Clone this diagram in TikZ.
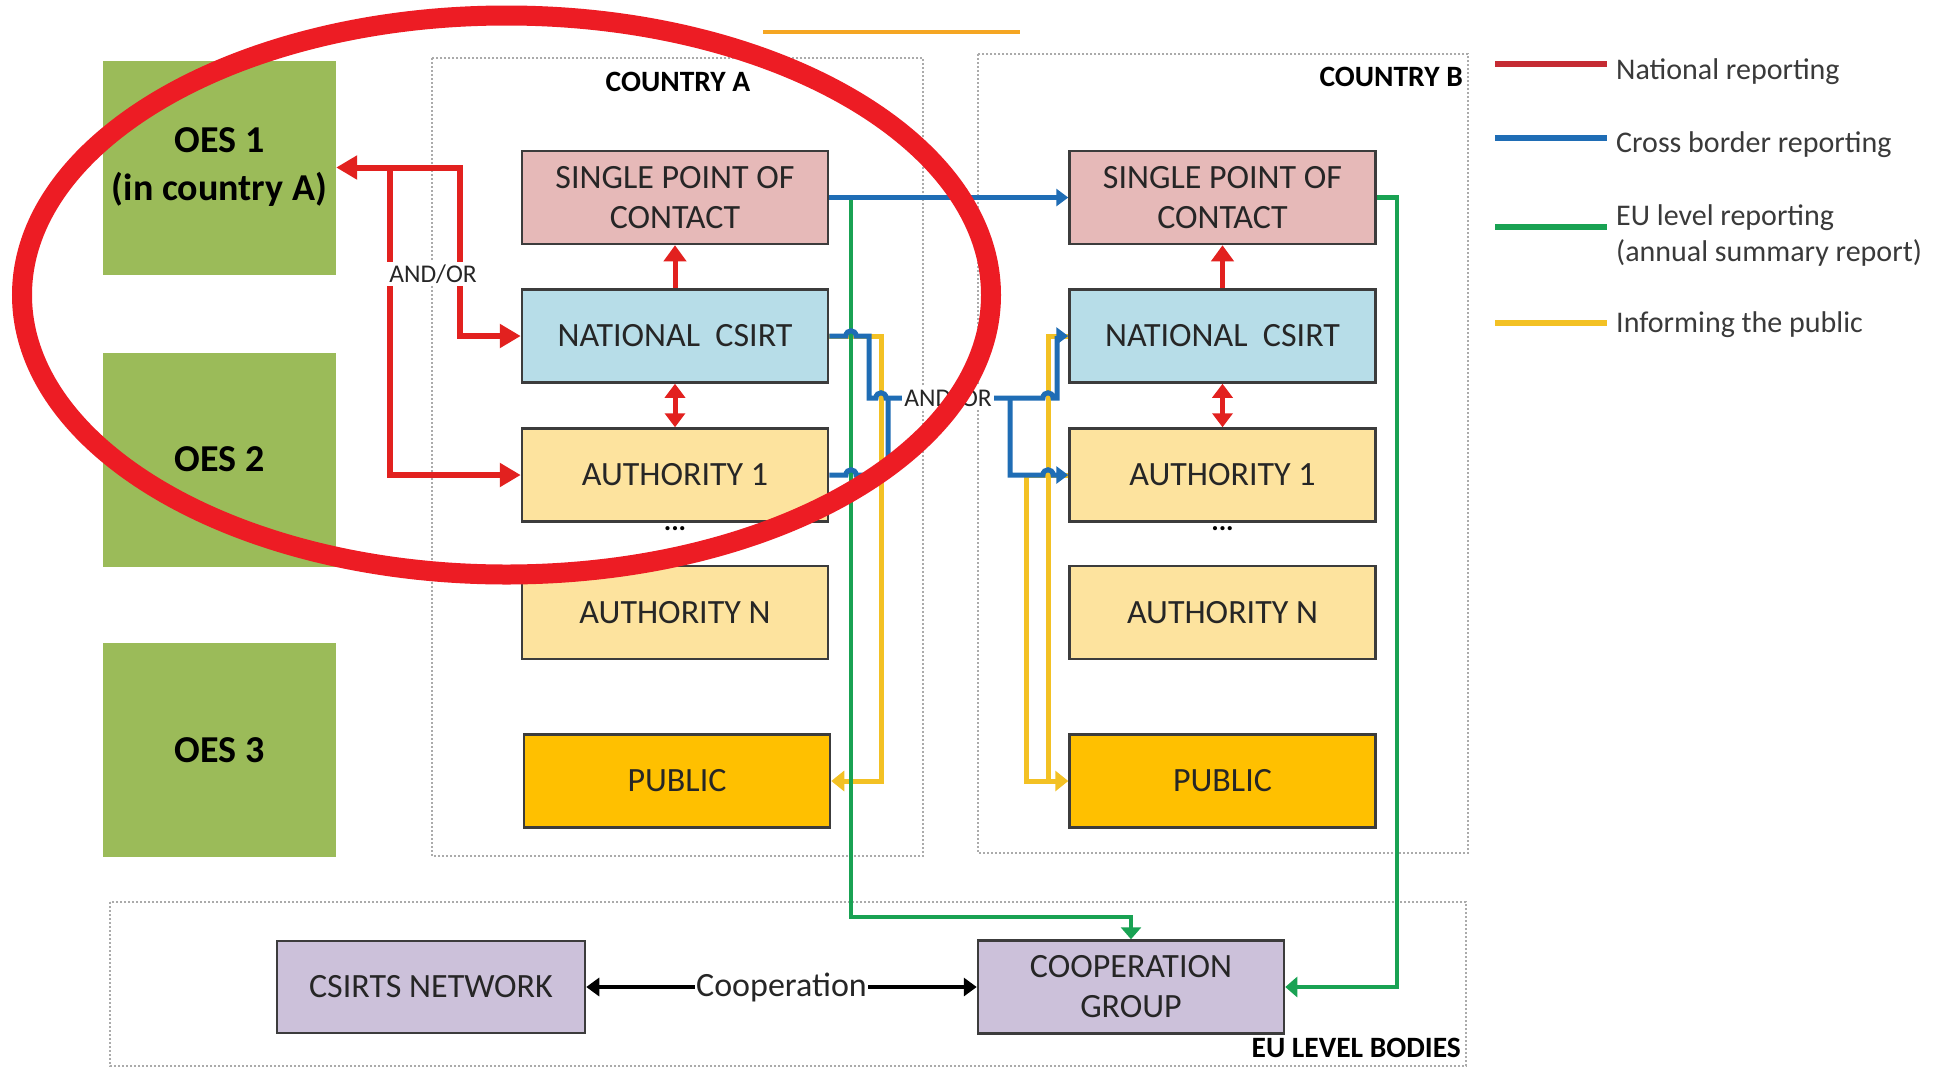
\documentclass[tikz,border=0pt]{standalone}
\usepackage{fontspec}
\setmainfont{Carlito}
\usetikzlibrary{arrows.meta}
\definecolor{oesgreen}{HTML}{9BBB59}
\definecolor{spocpink}{HTML}{E6B9B8}
\definecolor{csirtblue}{HTML}{B7DDE8}
\definecolor{authyellow}{HTML}{FDE39E}
\definecolor{publicorange}{HTML}{FFC000}
\definecolor{eupurple}{HTML}{CCC1DA}
\definecolor{boxborder}{HTML}{3C3C3C}
\definecolor{natred}{HTML}{E2211F}
\definecolor{legred}{HTML}{C52B33}
\definecolor{crossblue}{HTML}{1F6DB5}
\definecolor{eugreen}{HTML}{19A253}
\definecolor{pubyellow}{HTML}{F3C124}
\definecolor{ringred}{HTML}{ED1C24}
\definecolor{toporange}{HTML}{F5A623}
\definecolor{framegray}{HTML}{ABABAB}
\definecolor{txt}{HTML}{262626}
\definecolor{legtxt}{HTML}{3A3A3A}
\begin{document}
\begin{tikzpicture}[x=1pt,y=-1pt,
  box/.style={draw=boxborder,line width=2.5pt,inner sep=0pt,minimum width=306pt,minimum height=93pt,text=txt,align=center,font=\fontsize{34}{40}\selectfont},
  oesbox/.style={fill=oesgreen,inner sep=0pt,minimum width=233pt,minimum height=214pt,text=black,align=center,font=\fontsize{38}{48}\selectfont\bfseries},
  framebox/.style={draw=framegray,line width=1.2pt,dash pattern=on 2pt off 2pt},
  boldlabel/.style={inner sep=0pt,text=black,font=\fontsize{29.5}{34}\selectfont\bfseries},
  andor/.style={fill=white,inner sep=2.5pt,text=txt,font=\fontsize{25.5}{28}\selectfont},
  dotsnode/.style={inner sep=0pt,text=black,font=\fontsize{28}{30}\selectfont\bfseries},
  redline/.style={draw=natred,line width=6pt},
  redtip/.style={-{Triangle[length=21pt,width=23pt]}},
  redbothtip/.style={{Triangle[length=21pt,width=23pt]}-{Triangle[length=21pt,width=23pt]}},
  redvert/.style={draw=natred,line width=5pt},
  blueline/.style={draw=crossblue,line width=5pt,-{Triangle[length=12pt,width=17pt]}},
  bluebare/.style={draw=crossblue,line width=5pt},
  greenline/.style={draw=eugreen,line width=4.5pt,-{Triangle[length=12pt,width=20pt]}},
  yellowline/.style={draw=pubyellow,line width=5pt,-{Triangle[length=13pt,width=20pt]}},
  yellowbare/.style={draw=pubyellow,line width=5pt},
  blackline/.style={draw=black,line width=4.5pt,{Triangle[length=13pt,width=18pt]}-{Triangle[length=13pt,width=18pt]}},
  legtext/.style={anchor=west,inner sep=0pt,text=legtxt,align=left,font=\fontsize{30}{36}\selectfont},
  legswatch/.style={line width=5.5pt}
]
\useasboundingbox (0,0) rectangle (1941,1069);
\fill[white] (0,0) rectangle (1941,1069);

% top orange line
\draw[toporange,line width=4pt] (763,32) -- (1020,32);

% frames
\draw[framebox] (432,58) rectangle (923,856);
\draw[framebox] (978,54) rectangle (1468,853);
\draw[framebox] (110,902) rectangle (1466,1066);

% labels of frames
\node[boldlabel] (lblA) at (678,81.5) {COUNTRY A};
\node[boldlabel,anchor=east] (lblB) at (1463,76.5) {COUNTRY B};
\node[boldlabel,anchor=east] (lblEU) at (1461,1048) {EU LEVEL BODIES};

% OES boxes
\node[oesbox] (oes1) at (219.5,167.5) {OES 1\\(in country A)};
\node[oesbox] (oes2) at (219.5,459.5) {OES 2};
\node[oesbox] (oes3) at (219.5,750) {OES 3};

% Country A
\node[box,fill=spocpink] (spocA) at (675,197.5) {SINGLE POINT OF\\CONTACT};
\node[box,fill=csirtblue] (csirtA) at (675,336) {NATIONAL\ \ CSIRT};
\node[box,fill=authyellow] (authA1) at (675,475) {AUTHORITY 1};
\node[dotsnode] (dotsA) at (675,529) {...};
\node[box,fill=authyellow] (authAN) at (675,612.5) {AUTHORITY N};
\node[box,fill=publicorange] (publicA) at (677,781) {PUBLIC};

% Country B
\node[box,fill=spocpink] (spocB) at (1222.5,197.5) {SINGLE POINT OF\\CONTACT};
\node[box,fill=csirtblue] (csirtB) at (1222.5,336) {NATIONAL\ \ CSIRT};
\node[box,fill=authyellow] (authB1) at (1222.5,475) {AUTHORITY 1};
\node[dotsnode] (dotsB) at (1222.5,529) {...};
\node[box,fill=authyellow] (authBN) at (1222.5,612.5) {AUTHORITY N};
\node[box,fill=publicorange] (publicB) at (1222.5,781) {PUBLIC};

% EU level bodies
\node[box,fill=eupurple,minimum width=308pt,minimum height=92pt] (csirtsnet) at (431,987) {CSIRTS NETWORK};
\node[box,fill=eupurple,minimum height=93pt] (coop) at (1131,987) {COOPERATION\\GROUP};

% junction coordinates
\coordinate (rA) at (460,167.5);
\coordinate (rB) at (390,167.5);
\coordinate (yA) at (881,781);
\coordinate (yB1) at (1048,781);
\coordinate (yB2) at (1026,781);
\coordinate (gA) at (851,917);
\coordinate (gB) at (1397,600);
\coordinate (jA) at (888,398);
\coordinate (jB) at (1010,398);

% yellow: informing the public
\draw[yellowline] (csirtA.east) -| (yA) -- (publicA.east);
\draw[yellowline] (csirtB.west) -| (yB1) -- (publicB.west);
\draw[yellowbare] (authB1.west) -| (yB2) -- (yB1);

% green: EU level reporting
\draw[greenline] (spocA.east) -| (gA) -| (coop.north);
\draw[greenline] (spocB.east) -| (gB) |- (coop.east);

% blue: cross border reporting
\draw[blueline] (spocA.east) -- (spocB.west);
\draw[blueline] (csirtA.east) -- (846,336) .. controls (846,329) and (856,329) .. (856,336)
  -- (869,336) -- (869,398) -- (876,398) .. controls (876,391) and (886,391) .. (886,398)
  -- (jA) -- (jB) -- (1043,398) .. controls (1043,391) and (1053,391) .. (1053,398)
  -- (1057,398) -- (1057,336) -- (csirtB.west);
\draw[bluebare] (authA1.east) -- (846,475) .. controls (846,468) and (856,468) .. (856,475)
  -- (876,475) .. controls (876,468) and (886,468) .. (886,475) -- (888,475) -- (jA);
\draw[blueline] (jB) -- (1010,475) -- (1043,475) .. controls (1043,468) and (1053,468) .. (1053,475)
  -- (authB1.west);
\node[andor] (andorB) at (948,398) {AND/OR};

% red: national reporting
\draw[redline,redbothtip] (oes1.east) -- (rA) |- (csirtA.west);
\draw[redline,redtip] (rB) |- (authA1.west);
\node[andor] (andorA) at (433,274) {AND/OR};
\draw[redvert,-{Triangle[length=16pt,width=22pt]}] (csirtA.north) -- (spocA.south);
\draw[redvert,{Triangle[length=14pt,width=20pt]}-{Triangle[length=14pt,width=20pt]}] (csirtA.south) -- (authA1.north);
\draw[redvert,-{Triangle[length=16pt,width=22pt]}] (csirtB.north) -- (spocB.south);
\draw[redvert,{Triangle[length=14pt,width=20pt]}-{Triangle[length=14pt,width=20pt]}] (csirtB.south) -- (authB1.north);

% black: cooperation
\draw[blackline] (csirtsnet.east) -- (coop.west) node[midway,fill=white,inner sep=1pt,text=txt,font=\fontsize{34}{40}\selectfont] (coopl) {Cooperation};

% legend
\node[legtext] (legNat) at (1616,72) {National reporting};
\node[legtext] (legCross) at (1616,145) {Cross border reporting};
\node[legtext] (legEU) at (1616,235) {EU level reporting\\(annual summary report)};
\node[legtext] (legPub) at (1616,325) {Informing the public};
\draw[legswatch,legred] (1495,64) -- (1607,64);
\draw[legswatch,crossblue] (1495,138) -- (1607,138);
\draw[legswatch,eugreen] (1495,227) -- (1607,227);
\draw[legswatch,pubyellow] (1495,323) -- (1607,323);

% red ring
\draw[ringred,line width=20pt] (506.5,295) ellipse [x radius=484.5pt, y radius=279.5pt];
\end{tikzpicture}
\end{document}
